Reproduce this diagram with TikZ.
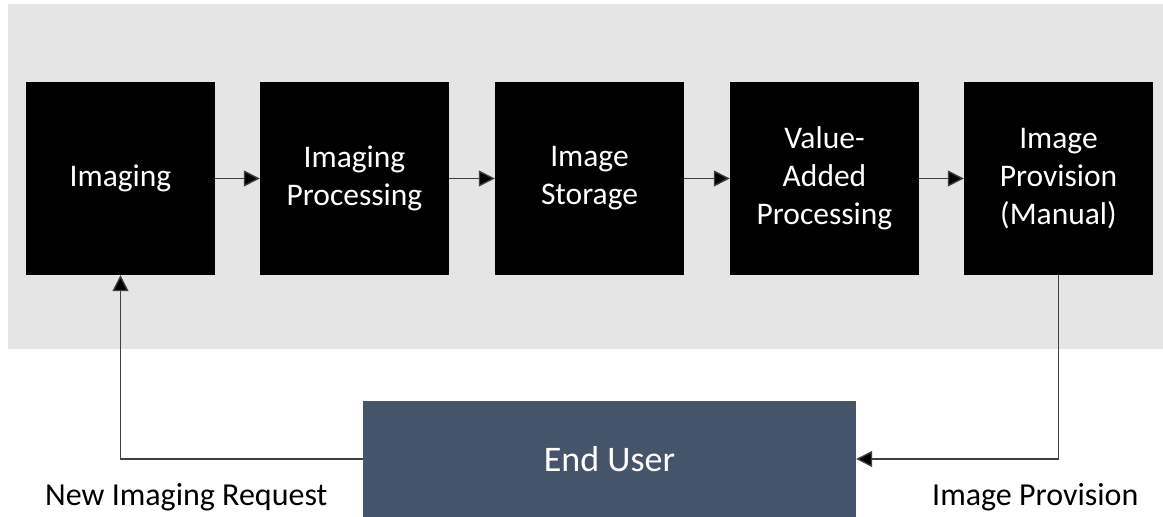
\documentclass[tikz,border=0pt]{standalone}
\usepackage{fontspec}
\setmainfont{Carlito}
\usetikzlibrary{arrows.meta}
\definecolor{bggray}{HTML}{E5E5E5}
\definecolor{userblue}{HTML}{44546A}
\definecolor{linegray}{HTML}{404040}
\tikzset{
  stagebox/.style={fill=black, text=white, minimum width=189bp, minimum height=193bp,
    inner sep=0pt, align=center, font=\fontsize{31.5bp}{38bp}\selectfont},
  userbox/.style={fill=userblue, text=white, minimum width=493bp, minimum height=116bp,
    inner sep=0pt, font=\fontsize{36bp}{43bp}\selectfont},
  flow/.style={draw=linegray, line width=1.3bp, -{Triangle[length=16bp,width=16bp,fill=black]}},
  lbl/.style={anchor=base west, inner sep=0pt, text=black, font=\fontsize{32bp}{38bp}\selectfont}
}
\begin{document}
\begin{tikzpicture}[x=1bp, y=-1bp]
\useasboundingbox (0,0) rectangle (1163,517);
\fill[bggray] (8,4) rectangle (1163,349);
\node[stagebox] (imaging) at (120.5,178.5) {Imaging};
\node[stagebox] (proc) at (354.5,178.5) {Imaging\\Processing};
\node[stagebox] (store) at (589.5,178.5) {Image\\Storage};
\node[stagebox] (value) at (824.5,178.5) {Value-\\Added\\Processing};
\node[stagebox] (prov) at (1058.5,178.5) {Image\\Provision\\(Manual)};
\begin{scope}
\clip (0,0) rectangle (1163,517);
\node[userbox] (user) at (609.5,459) {End User};
\end{scope}
\draw[flow] (imaging.east) -- (proc.west);
\draw[flow] (proc.east) -- (store.west);
\draw[flow] (store.east) -- (value.west);
\draw[flow] (value.east) -- (prov.west);
\draw[flow] (user.west) -| (imaging.south);
\draw[flow] (prov.south) |- (user.east);
\node[lbl] (reqlbl) at (45,505) {New Imaging Request};
\node[lbl] (provlbl) at (932,505) {Image Provision};
\end{tikzpicture}
\end{document}
